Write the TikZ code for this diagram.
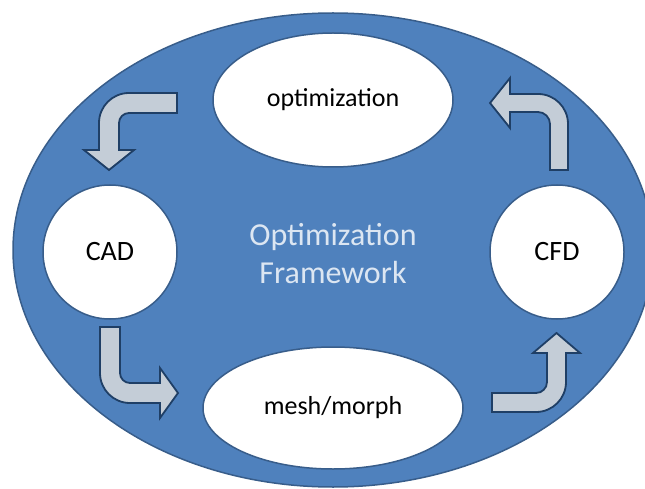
\documentclass[tikz,border=0pt]{standalone}
\usepackage{fontspec}
\setmainfont{Carlito}
\usetikzlibrary{shapes.geometric}
\definecolor{frameblue}{HTML}{4F81BD}
\definecolor{frameedge}{HTML}{385D8A}
\definecolor{titletext}{HTML}{DCE6F2}
\definecolor{arrowfill}{HTML}{C4CDD7}
\definecolor{arrowedge}{HTML}{1F3F66}
\tikzset{
  stage/.style={ellipse, draw=frameedge, line width=1.5pt, fill=white,
    inner sep=0pt, text=black},
  blockarrow/.style={draw=arrowedge, line width=1.8pt, fill=arrowfill,
    line join=miter},
}
\begin{document}
\begin{tikzpicture}[x=1pt, y=-1pt]
  \useasboundingbox (0,0) rectangle (645,489);

  % outer framework
  \node[ellipse, draw=frameedge, line width=1.5pt, fill=frameblue,
        minimum width=640pt, minimum height=474pt, inner sep=0pt]
        (frame) at (333,250) {};
  \node[text=titletext, font=\fontsize{32}{38}\selectfont, align=center]
        (title) at (333,254) {Optimization\\Framework};

  % stages
  \node[stage, minimum width=240pt, minimum height=134pt,
        font=\fontsize{26}{30}\selectfont] (opt) at (333,100) {optimization};
  \node[stage, minimum width=260pt, minimum height=122pt,
        font=\fontsize{26}{30}\selectfont] (mesh) at (333,408) {mesh/morph};
  \node[stage, circle, minimum size=134pt,
        font=\fontsize{28}{32}\selectfont] (cad) at (110,252) {CAD};
  \node[stage, circle, minimum size=134pt,
        font=\fontsize{28}{32}\selectfont] (cfd) at (557,252) {CFD};

  % bent block arrows
  \draw[blockarrow] (177,93) -- (129,93)
    .. controls (112.4,93) and (99,106.4) .. (99,123) -- (99,150)
    -- (84,150) -- (109,170) -- (134,150) -- (119,150) -- (119,123)
    .. controls (119,117.5) and (123.5,113) .. (129,113) -- (177,113) -- cycle;

  \draw[blockarrow] (100,327) -- (100,373)
    .. controls (100,389.6) and (113.4,403) .. (130,403) -- (160,403)
    -- (160,418) -- (178,393) -- (160,368) -- (160,383) -- (130,383)
    .. controls (124.5,383) and (120,378.5) .. (120,373) -- (120,327) -- cycle;

  \draw[blockarrow] (492,393) -- (536,393)
    .. controls (542.1,393) and (547,388.1) .. (547,382) -- (547,353)
    -- (533,353) -- (556.5,333) -- (580,353) -- (566,353) -- (566,382)
    .. controls (566,398.6) and (552.6,412) .. (536,412) -- (492,412) -- cycle;

  \draw[blockarrow] (550,170) -- (550,124)
    .. controls (550,117.4) and (544.6,112) .. (538,112) -- (510,112)
    -- (510,128) -- (490,103) -- (510,78) -- (510,94) -- (538,94)
    .. controls (554.6,94) and (568,107.4) .. (568,124) -- (568,170) -- cycle;
\end{tikzpicture}
\end{document}
